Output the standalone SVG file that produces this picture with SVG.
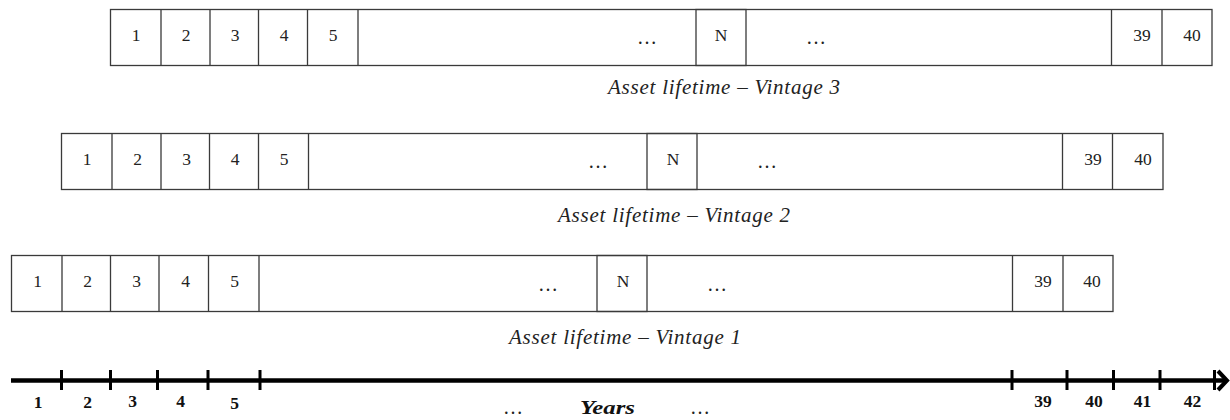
<svg xmlns="http://www.w3.org/2000/svg" width="1230" height="420" viewBox="0 0 1230 420">
<style>
  .box{fill:none;stroke:#3a3a3a;stroke-width:1.3}
  .num{font-family:"Liberation Serif",serif;font-size:17.5px;fill:#222;text-anchor:middle}
  .dots{font-family:"Liberation Serif",serif;font-size:20px;fill:#222;text-anchor:middle}
  .lbl{font-family:"Liberation Serif",serif;font-style:italic;font-size:21px;fill:#222;text-anchor:middle}
  .ax{font-family:"Liberation Serif",serif;font-weight:bold;font-size:17.5px;fill:#111;text-anchor:middle}
  .tick{stroke:#000;stroke-width:3}
</style>
<rect width="1230" height="420" fill="#fff"/>

<g id="vintage3">
  <rect class="box" x="110.5" y="9.5" width="1101.5" height="56"/>
  <path class="box" d="M161 9.5V65.5M210 9.5V65.5M258.5 9.5V65.5M307.5 9.5V65.5M358 9.5V65.5M1111.5 9.5V65.5M1162 9.5V65.5"/>
  <rect class="box" x="696" y="9.5" width="50" height="56"/>
  <text class="num" x="136" y="41">1</text>
  <text class="num" x="186" y="41">2</text>
  <text class="num" x="235" y="41">3</text>
  <text class="num" x="284" y="41">4</text>
  <text class="num" x="333" y="41">5</text>
  <text class="dots" x="647" y="44" textLength="24" lengthAdjust="spacing">…</text>
  <text class="num" x="721" y="41">N</text>
  <text class="dots" x="816" y="44" textLength="24" lengthAdjust="spacing">…</text>
  <text class="num" x="1142" y="41">39</text>
  <text class="num" x="1192" y="41">40</text>
  <text class="lbl" x="724" y="94" textLength="232" lengthAdjust="spacing">Asset lifetime – Vintage 3</text>
</g>

<g id="vintage2">
  <rect class="box" x="61.5" y="133.5" width="1101.5" height="56"/>
  <path class="box" d="M112 133.5V189.5M161 133.5V189.5M209.5 133.5V189.5M258.5 133.5V189.5M308.5 133.5V189.5M1062.5 133.5V189.5M1112.5 133.5V189.5"/>
  <rect class="box" x="647" y="133.5" width="50" height="56"/>
  <text class="num" x="87" y="164.5">1</text>
  <text class="num" x="137.5" y="164.5">2</text>
  <text class="num" x="186.5" y="164.5">3</text>
  <text class="num" x="235" y="164.5">4</text>
  <text class="num" x="284" y="164.5">5</text>
  <text class="dots" x="598" y="168" textLength="24" lengthAdjust="spacing">…</text>
  <text class="num" x="673" y="164.5">N</text>
  <text class="dots" x="767" y="168" textLength="24" lengthAdjust="spacing">…</text>
  <text class="num" x="1093" y="164.5">39</text>
  <text class="num" x="1143" y="164.5">40</text>
  <text class="lbl" x="674" y="222" textLength="232" lengthAdjust="spacing">Asset lifetime – Vintage 2</text>
</g>

<g id="vintage1">
  <rect class="box" x="11.5" y="255.5" width="1101.5" height="56"/>
  <path class="box" d="M62 255.5V311.5M110.5 255.5V311.5M159 255.5V311.5M208.5 255.5V311.5M259 255.5V311.5M1012.5 255.5V311.5M1063 255.5V311.5"/>
  <rect class="box" x="597" y="255.5" width="50" height="56"/>
  <text class="num" x="37.5" y="286.5">1</text>
  <text class="num" x="87.5" y="286.5">2</text>
  <text class="num" x="136.5" y="286.5">3</text>
  <text class="num" x="185.5" y="286.5">4</text>
  <text class="num" x="234.5" y="286.5">5</text>
  <text class="dots" x="548" y="291" textLength="24" lengthAdjust="spacing">…</text>
  <text class="num" x="623" y="286.5">N</text>
  <text class="dots" x="717" y="291" textLength="24" lengthAdjust="spacing">…</text>
  <text class="num" x="1043" y="286.5">39</text>
  <text class="num" x="1092" y="286.5">40</text>
  <text class="lbl" x="625" y="344" textLength="232" lengthAdjust="spacing">Asset lifetime – Vintage 1</text>
</g>

<g id="connectors">
  <line x1="11" y1="380.5" x2="1226" y2="380.5" stroke="#000" stroke-width="4.5"/>
  <path d="M1218 371L1227 380.5L1218 390" fill="none" stroke="#000" stroke-width="4"/>
</g>

<g id="timeline">
  <path class="tick" d="M61.5 370V390M110.5 370V390M157.5 370V390M208 370V390M260 370V390M1012 370V390M1067 370V390M1113.5 370V390M1160 370V390M1214.5 370V390"/>
  <text class="ax" x="38" y="407.5">1</text>
  <text class="ax" x="87.5" y="407.5">2</text>
  <text class="ax" x="132.5" y="406.5">3</text>
  <text class="ax" x="180.5" y="406.5">4</text>
  <text class="ax" x="234.5" y="408.5">5</text>
  <text class="ax" x="1043" y="406.5">39</text>
  <text class="ax" x="1094" y="406.5">40</text>
  <text class="ax" x="1142.5" y="406.5">41</text>
  <text class="ax" x="1192.5" y="406.5">42</text>
  <text class="dots" x="513" y="414" textLength="24" lengthAdjust="spacing">…</text>
  <text x="607.5" y="414" font-family="Liberation Serif, serif" font-weight="bold" font-style="italic" font-size="19px" fill="#111" text-anchor="middle" textLength="55" lengthAdjust="spacingAndGlyphs">Years</text>
  <text class="dots" x="700" y="414" textLength="24" lengthAdjust="spacing">…</text>
</g>
</svg>
